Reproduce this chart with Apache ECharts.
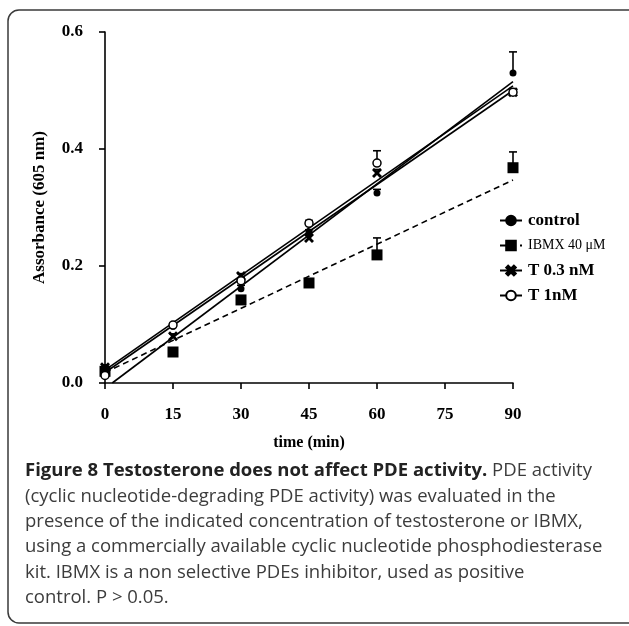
<!DOCTYPE html>
<html>
<head>
<meta charset="utf-8">
<title>Figure 8</title>
<script src="https://cdn.jsdelivr.net/npm/echarts@6/dist/echarts.min.js"></script>
<style>
  html, body { margin: 0; padding: 0; background: #fff; }
  #pdeChart { width: 629px; height: 626px; }
</style>
</head>
<body>
<div id="pdeChart"></div>
<script>
// time points (min)
const times = [0, 15, 30, 45, 60, 90]
const xTicks = [0, 15, 30, 45, 60, 75, 90]

// mean absorbance per group
const control = [0.012, 0.097, 0.161, 0.258, 0.325, 0.530]
const ibmx = [0.020, 0.053, 0.142, 0.171, 0.219, 0.368]
const t03 = [0.027, 0.080, 0.183, 0.248, 0.359, 0.497]
const t1 = [0.013, 0.099, 0.175, 0.273, 0.376, 0.497]

// upper error (SEM)
const controlErr = [0.004, 0.004, 0.006, 0.004, 0.006, 0.036]
const ibmxErr = [0.004, 0.004, 0.006, 0.006, 0.029, 0.027]
const t03Err = [0.004, 0.004, 0.004, 0.005, 0.006, 0.006]
const t1Err = [0.004, 0.004, 0.005, 0.005, 0.021, 0.005]

// linear regression lines (start and end of each drawn fit)
const fitX = [0, 90]
const controlFitX = [1.6, 90] // control fit crosses 0 just after t=0
const controlFit = [0, 0.515]
const ibmxFit = [0.018, 0.347]
const t03Fit = [0.022, 0.508]
const t1Fit = [0.018, 0.500]

const names = ['control', 'IBMX 40 μM', 'T 0.3 nM', 'T 1nM']
const crossPath = 'path://M0,2L2,0L5,3L8,0L10,2L7,5L10,8L8,10L5,7L2,10L0,8L3,5Z'

const captionLines = [
  '(cyclic nucleotide-degrading PDE activity) was evaluated in the',
  'presence of the indicated concentration of testosterone or IBMX,',
  'using a commercially available cyclic nucleotide phosphodiesterase',
  'kit. IBMX is a non selective PDEs inhibitor, used as positive',
  'control. P > 0.05.'
]

const serif = '"Liberation Serif", "DejaVu Serif", serif'
const sans = '"Open Sans", sans-serif'

function pairs(xs, ys) {
  return xs.map((x, i) => [x, ys[i]])
}
function errData(ys, errs) {
  return times.map((t, i) => [t, ys[i], ys[i] + errs[i]])
}

function errorBars(name, ys, errs) {
  return {
    name: name,
    type: 'custom',
    z: 3,
    silent: true,
    renderItem(params, api) {
      const lo = api.coord([api.value(0), api.value(1)])
      const hi = api.coord([api.value(0), api.value(2)])
      const style = { stroke: '#000', lineWidth: 1.6 }
      return {
        type: 'group',
        children: [
          { type: 'line', shape: { x1: lo[0], y1: lo[1], x2: hi[0], y2: hi[1] }, style: style },
          { type: 'line', shape: { x1: hi[0] - 4, y1: hi[1], x2: hi[0] + 4, y2: hi[1] }, style: style }
        ]
      }
    },
    data: errData(ys, errs)
  }
}

function fitLine(name, xs, ys, symbol, symbolColor, dashed) {
  return {
    name: name,
    type: 'line',
    z: 2,
    symbol: symbol,
    showSymbol: false,
    itemStyle: { color: symbolColor, borderColor: '#000', borderWidth: 1.5 },
    lineStyle: { color: '#000', width: 1.6, type: dashed ? [6, 4] : 'solid' },
    data: pairs(xs, ys)
  }
}

function points(name, ys, symbol, size, fill) {
  return {
    name: name,
    type: 'scatter',
    z: 4,
    symbol: symbol,
    symbolSize: size,
    itemStyle: { color: fill, borderColor: '#000', borderWidth: fill === '#fff' ? 1.5 : 0, opacity: 1 },
    data: pairs(times, ys)
  }
}

const chart = echarts.init(document.getElementById('pdeChart'))

chart.setOption({
  animation: false,
  backgroundColor: '#fff',
  grid: { left: 105, right: 116, top: 32, bottom: 243 },
  xAxis: {
    type: 'value',
    min: 0,
    max: 90,
    interval: 15,
    offset: 19,
    name: 'time (min)',
    nameLocation: 'middle',
    nameGap: 33,
    nameTextStyle: { fontFamily: serif, fontWeight: 'bold', fontSize: 16, color: '#000' },
    splitLine: { show: false },
    axisLine: { lineStyle: { color: '#000', width: 1.6 } },
    axisTick: { length: 6, lineStyle: { color: '#000', width: 1.6 } },
    axisLabel: {
      margin: 4,
      fontFamily: serif,
      fontWeight: 'bold',
      fontSize: 17,
      color: '#000',
      customValues: xTicks
    }
  },
  yAxis: {
    type: 'value',
    min: 0,
    max: 0.6,
    interval: 0.2,
    offset: 21,
    name: 'Assorbance (605 nm)',
    nameLocation: 'middle',
    nameGap: 36,
    nameTextStyle: { fontFamily: serif, fontWeight: 'bold', fontSize: 17, color: '#000' },
    splitLine: { show: false },
    axisLine: { show: true, lineStyle: { color: '#000', width: 1.6 } },
    axisTick: { show: true, length: 6, lineStyle: { color: '#000', width: 1.6 } },
    axisLabel: {
      margin: 1,
      fontFamily: serif,
      fontWeight: 'bold',
      fontSize: 17,
      color: '#000',
      formatter: v => v.toFixed(1)
    }
  },
  legend: {
    data: names,
    orient: 'vertical',
    left: 494,
    top: 207,
    itemWidth: 22,
    itemHeight: 12,
    itemGap: 8,
    selectedMode: false,
    formatter: name => name === 'IBMX 40 μM' ? '{s|' + name + '}' : name,
    textStyle: {
      fontFamily: serif,
      fontWeight: 'bold',
      fontSize: 17,
      lineHeight: 17,
      color: '#000',
      padding: [0, 0, 0, 1],
      rich: {
        s: { fontFamily: serif, fontWeight: 'normal', fontSize: 14, color: '#000' }
      }
    }
  },
  series: [
    fitLine(names[0], controlFitX, controlFit, 'circle', '#000', false),
    fitLine(names[1], fitX, ibmxFit, 'rect', '#000', true),
    fitLine(names[2], fitX, t03Fit, crossPath, '#000', false),
    fitLine(names[3], fitX, t1Fit, 'circle', '#fff', false),
    errorBars(names[0], control, controlErr),
    errorBars(names[1], ibmx, ibmxErr),
    errorBars(names[2], t03, t03Err),
    errorBars(names[3], t1, t1Err),
    points(names[1], ibmx, 'rect', 11, '#000'),
    points(names[0], control, 'circle', 7, '#000'),
    points(names[2], t03, crossPath, 10, '#000'),
    points(names[3], t1, 'circle', 8, '#fff')
  ],
  graphic: [
    {
      type: 'rect',
      silent: true,
      shape: { x: 8, y: 10, width: 640, height: 613, r: 11 },
      style: { fill: 'none', stroke: '#3a3a3a', lineWidth: 1.5 }
    },
    {
      type: 'text',
      left: 25,
      top: 461,
      style: {
        text: '{b|Figure 8 Testosterone does not affect PDE activity.} PDE activity',
        fontFamily: sans,
        fontSize: 18.5,
        fill: '#3c3c3c',
        rich: {
          b: { fontFamily: sans, fontWeight: 'bold', fontSize: 18.5, fill: '#222' }
        }
      }
    }
  ].concat(captionLines.map((line, i) => ({
    type: 'text',
    left: 25,
    top: 487 + i * 25.3,
    style: {
      text: line,
      fontFamily: sans,
      fontSize: 18.5,
      fill: '#3c3c3c'
    }
  })))
})
</script>
</body>
</html>
